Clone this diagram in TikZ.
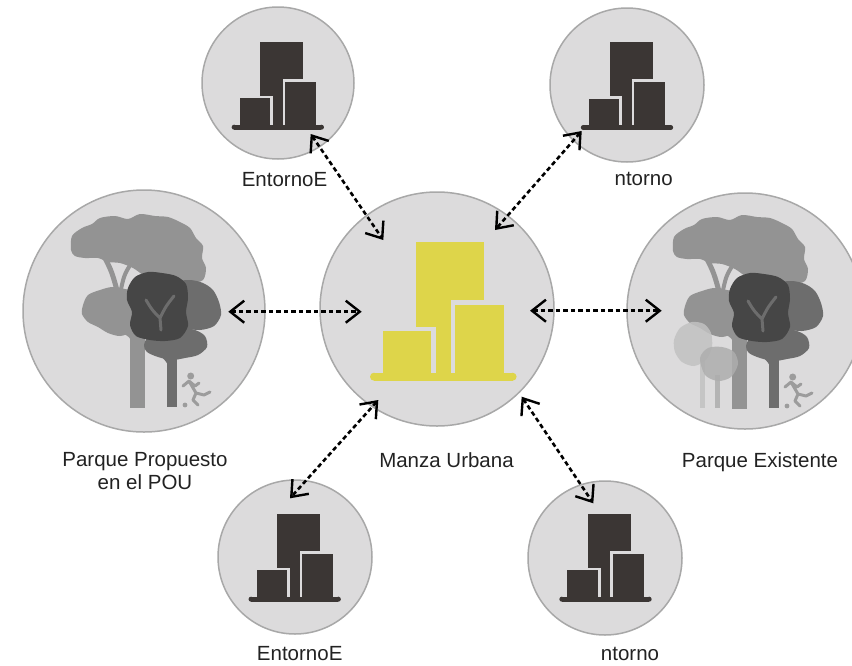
\documentclass[tikz,border=0pt]{standalone}
\usepackage{fontspec}
\setmainfont{Liberation Sans}
\usetikzlibrary{arrows.meta}
\definecolor{disc}{HTML}{DCDBDC}
\definecolor{rim}{HTML}{A8A8A8}
\definecolor{bldg}{HTML}{3B3634}
\definecolor{mainbldg}{HTML}{DED54A}
\definecolor{treeA}{HTML}{939393}
\definecolor{treeB}{HTML}{6D6D6D}
\definecolor{treeC}{HTML}{464646}
\definecolor{treeF}{HTML}{C2C2C2}
\definecolor{treeG}{HTML}{AEAEAE}
\definecolor{runner}{HTML}{9C9C9C}
\definecolor{ink}{HTML}{222222}

\tikzset{
  discnode/.style={circle, fill=disc, draw=rim, line width=1.5pt, minimum size=#1, inner sep=0pt},
  lbl/.style={text=ink, inner sep=0pt, font=\fontsize{20.5}{23}\selectfont},
  barb/.tip={Straight Barb[length=14pt,width=22pt,line width=2.4pt]},
  link/.style={line width=2.6pt, dash pattern=on 4.5pt off 3pt, barb-barb},
  % block of three buildings on a base bar; origin = centre of the bar
  pics/block/.style={code={
    \fill[#1] (-27.6,-135) rectangle (40.7,0);
    \fill[disc] (-65.6,-50.2) rectangle (-7.3,0);
    \fill[#1] (-60.6,-45.7) rectangle (-12.3,0);
    \fill[disc] (7.7,-76.7) rectangle (65,0);
    \fill[#1] (11.7,-71.7) rectangle (61,0);
    \fill[#1] (-69.3,-4) rectangle (69.3,4);
    \fill[#1] (-69.3,0) circle[radius=4] (69.3,0) circle[radius=4];
  }},
  % group of trees with a running child
  pics/grove/.style={code={
    % tall pale tree
    \fill[treeA] (130,318) rectangle (145,408);
    \draw[treeA, line width=5, line cap=round] (137,345) .. controls (130,333) .. (112,327);
    \draw[treeA, line width=5] (104,256) .. controls (112,272) .. (118,294);
    \draw[treeA, line width=4] (132,262) .. controls (124,275) .. (120,294);
    \fill[treeA] plot[smooth cycle, tension=0.5] coordinates {
      (71,250) (72,236) (82,228) (92,224) (100,218) (115,216) (128,219)
      (140,214) (155,216) (168,217) (180,222) (190,228) (196,238) (203,246)
      (202,258) (206,268) (203,280) (190,283) (175,279) (160,281) (145,276)
      (133,268) (120,263) (108,262) (98,258) (85,258) (75,256)};
    \fill[treeA] plot[smooth cycle, tension=0.5] coordinates {
      (83,305) (88,295) (100,290) (112,287) (125,289) (138,292) (147,300)
      (148,315) (140,325) (132,332) (120,336) (108,333) (98,327) (88,322) (82,314)};
    % middle tree
    \fill[treeB] (166.7,350) rectangle (176.7,407);
    \draw[treeB, line width=4] (171,366) .. controls (165,356) .. (152,350);
    \fill[treeB] plot[smooth cycle, tension=0.5] coordinates {
      (165,290) (175,282) (190,280) (203,283) (213,290) (219,302) (221,315)
      (214,326) (200,330) (185,328) (172,322) (163,310)};
    \fill[treeB] plot[smooth cycle, tension=0.5] coordinates {
      (144,345) (150,333) (163,328) (180,327) (195,330) (205,336) (207,347)
      (198,355) (185,358) (172,360) (158,357) (147,352)};
    % dark tree with paler limbs showing through
    \fill[treeC] plot[smooth cycle, tension=0.5] coordinates {
      (128,288) (135,277) (148,272) (162,273) (176,276) (186,284) (188,298)
      (186,312) (188,326) (180,338) (165,341) (150,340) (136,336) (130,325)
      (132,312) (127,300)};
    \draw[treeB, line width=3, line cap=round, line join=round]
      (146,300) .. controls (152,310) .. (160,318) -- (161,330)
      (174,296) .. controls (166,306) .. (160,318);
    % running child with a ball
    \fill[runner] (190.7,376) circle[radius=3.5];
    \draw[runner, line width=3, line cap=round, line join=round]
      (189,381) -- (196,393)
      (183,386) -- (189,381) -- (195,386) -- (199,383)
      (196,393) -- (204,395) -- (210,392)
      (196,393) -- (193,400) -- (198,405);
    \fill[runner] (185,405) circle[radius=2.4];
  }}
}

\begin{document}
\begin{tikzpicture}[x=1pt,y=-1pt]
\clip (0,0) rectangle (852,665);

% discs
\node[discnode=234pt] (hub) at (437,309) {};
\node[discnode=242pt] (parkL) at (144,311) {};
\node[discnode=236pt] (parkR) at (745,311) {};
\node[discnode=152pt] (envTL) at (278,83) {};
\node[discnode=154pt] (envTR) at (627,85) {};
\node[discnode=154pt] (envBL) at (295,557) {};
\node[discnode=154pt] (envBR) at (605,558) {};

% buildings
\pic at (443.3,376.7) {block=mainbldg};
\pic[scale=0.63] at (277.8,127.2) {block=bldg};
\pic[scale=0.63] at (627,127.5) {block=bldg};
\pic[scale=0.63] at (294.7,599.2) {block=bldg};
\pic[scale=0.63] at (605.5,599.2) {block=bldg};

% parks
\pic at (0,0) {grove};
\pic at (602,1) {grove};
\begin{scope}[opacity=0.85]
  \fill[treeF] (700,360) rectangle (705,408);
  \fill[treeF] plot[smooth cycle, tension=0.5] coordinates {
    (674,340) (680,328) (692,322) (704,324) (711,333) (712,347) (706,360)
    (694,366) (682,362) (675,352)};
  \fill[treeG] (715,375) rectangle (720,408);
  \fill[treeG] plot[smooth cycle, tension=0.5] coordinates {
    (700,358) (708,348) (722,347) (734,352) (738,364) (731,377) (718,381)
    (705,375)};
\end{scope}

% labels
\node[lbl, anchor=base] (tTL) at (284.5,186.7) {EntornoE};
\node[lbl, anchor=base] (tTR) at (643.7,185.5) {ntorno};
\node[lbl, anchor=north, align=center] (tPL) at (145,452) {Parque Propuesto\\en el POU};
\node[lbl, anchor=base] (tHub) at (446.5,467) {Manza Urbana};
\node[lbl, anchor=base] (tPR) at (760,467) {Parque Existente};
\node[lbl, anchor=base] (tBL) at (299.7,660) {EntornoE};
\node[lbl, anchor=base] (tBR) at (630,660) {ntorno};

% connector end points
\coordinate (a1) at (310.7,134);   \coordinate (a2) at (383.3,240);
\coordinate (b1) at (581.7,131);   \coordinate (b2) at (495,230);
\coordinate (c1) at (228.3,311.7); \coordinate (c2) at (361.7,311.7);
\coordinate (d1) at (530,310.7);   \coordinate (d2) at (661.7,310.7);
\coordinate (e1) at (378.3,400);   \coordinate (e2) at (290,498.3);
\coordinate (f1) at (521.7,396.7); \coordinate (f2) at (593.3,503.3);

\draw[link] (a1) -- (a2);
\draw[link] (b1) -- (b2);
\draw[link] (c1) -- (c2);
\draw[link] (d1) -- (d2);
\draw[link] (e1) -- (e2);
\draw[link] (f1) -- (f2);
\end{tikzpicture}
\end{document}
